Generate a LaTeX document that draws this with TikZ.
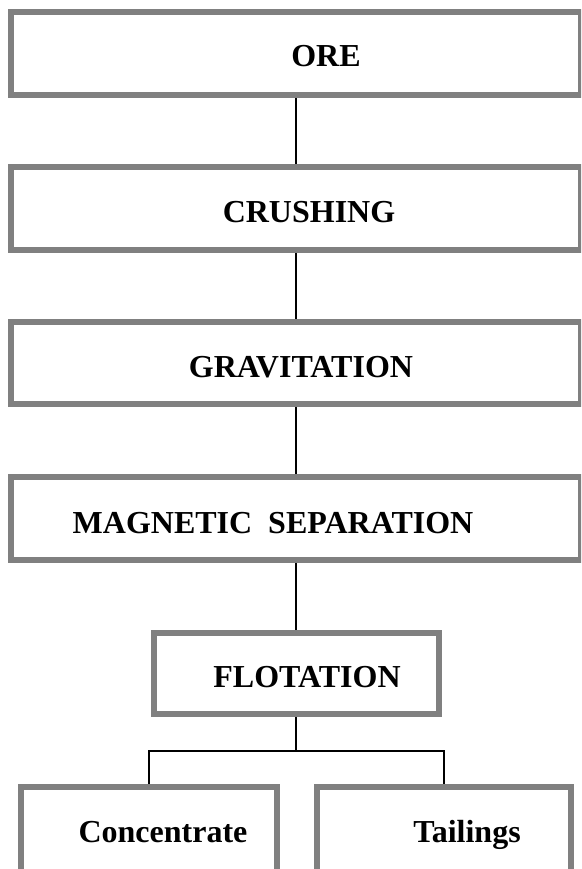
\documentclass[tikz,border=0pt]{standalone}
\usepackage{fontspec}
\setmainfont{Liberation Serif}
\usetikzlibrary{backgrounds}
\definecolor{bordergray}{HTML}{808080}
\tikzset{
  stage/.style={draw=bordergray, line width=6pt, fill=white, rectangle, inner sep=0pt},
  lbl/.style={anchor=base, inner sep=0pt, font=\fontsize{32}{38}\selectfont\bfseries},
  link/.style={draw=black, line width=2.3pt}
}
\begin{document}
\begin{tikzpicture}[x=1pt,y=-1pt]
\useasboundingbox (0,0) rectangle (581,869);
\clip (0,0) rectangle (581,869);
% boxes
\node[stage, minimum width=570pt, minimum height=83pt] (ore) at (296,53.5) {};
\node[stage, minimum width=570pt, minimum height=83pt] (crush) at (296,208.5) {};
\node[stage, minimum width=570pt, minimum height=82pt] (grav) at (296,363) {};
\node[stage, minimum width=570pt, minimum height=83pt] (mag) at (296,518.5) {};
\node[stage, minimum width=285pt, minimum height=81pt] (flot) at (296,673.5) {};
\node[stage, minimum width=256pt, minimum height=110pt] (conc) at (149,842) {};
\node[stage, minimum width=254pt, minimum height=110pt] (tail) at (444,842) {};
% labels
\node[lbl] (tore) at (326,67) {ORE};
\node[lbl] (tcrush) at (309,222) {CRUSHING};
\node[lbl] (tgrav) at (301,377) {GRAVITATION};
\node[lbl] (tmag) at (273,533) {MAGNETIC\ \ SEPARATION};
\node[lbl] (tflot) at (307,687) {FLOTATION};
\node[lbl] (tconc) at (163,842) {Concentrate};
\node[lbl] (ttail) at (467,842) {Tailings};
\coordinate (split) at (296,751);
% connectors
\begin{scope}[on background layer]
\draw[link] (ore.south) -- (crush.north);
\draw[link] (crush.south) -- (grav.north);
\draw[link] (grav.south) -- (mag.north);
\draw[link] (mag.south) -- (flot.north);
\draw[link] (flot.south) -- (split);
\draw[link] (split) -| (conc.north);
\draw[link] (split) -| (tail.north);
\end{scope}
\end{tikzpicture}
\end{document}
